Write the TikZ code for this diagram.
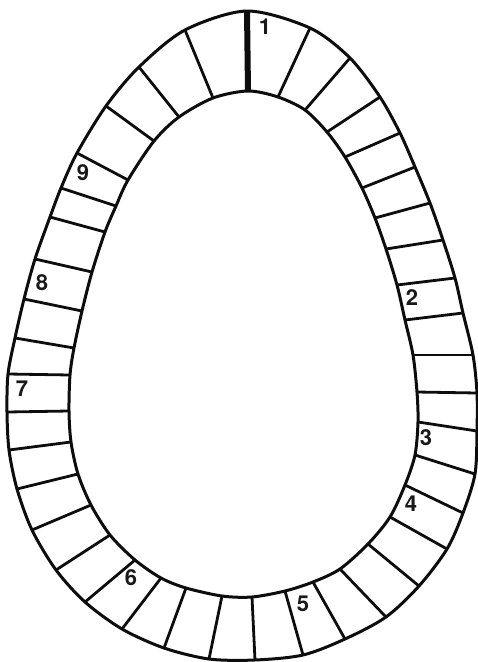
\documentclass[tikz,border=0pt]{standalone}
\usepackage{fontspec}
\setmainfont{TeX Gyre Heros}

\begin{document}
\begin{tikzpicture}[x=1pt, y=-1pt,
    rim/.style={line width=3pt, black!95},
    bar/.style={line width=2.8pt, black!95},
    startbar/.style={line width=6pt, black!95},
    num/.style={font=\bfseries\fontsize{22}{22}\selectfont, text=black!90},
]
    \useasboundingbox (0,0) rectangle (478,662);

    % Square edges: outer x/y, inner x/y, clockwise from the start
    \foreach \ox/\oy/\ix/\iy [count=\n] in {
        247/11/248/91, 310/28/278/97, 350/58/305/110, 380/97/327/132,
        400/133/345/157, 415/167/362/188, 430/203/375/218, 443/240/386/249,
        455/278/397/285, 463/313/405/320, 473/355/413/355, 477/393/417/392,
        477/431/418/422, 475/474/415/455, 463/513/405/485, 447/549/390/517,
        419/586/368/544, 386/617/340/569, 345/639/313/582, 303/655/285/591,
        255/660/252/597, 209/659/222/596, 164/648/186/588, 122/629/161/578,
        85/602/135/560, 56/570/110/535, 32/530/91/505, 17/489/78/474,
        9/450/71/442, 7/412/69/411, 8/374/70/375, 15/338/74/348,
        24/299/82/311, 35/259/92/272, 50/217/105/232, 61/188/116/206,
        77/153/128/180, 106/106/154/141, 139/67/179/117, 185/30/213/98}
    {
        \coordinate (o\n) at (\ox,\oy);
        \coordinate (i\n) at (\ix,\iy);
    }

    % Dividers
    \foreach \n in {2,...,40}
        \draw[bar] (o\n) -- (i\n);
    \draw[startbar] (o1) -- (i1);

    % Track outline
    \draw[rim] plot[smooth cycle, samples at={1,...,40}] (o\x);
    \draw[rim] plot[smooth cycle, samples at={1,...,40}] (i\x);

    % Numbers
    \node[num] (n1) at (265,27) {1};
    \node[num] (n2) at (412,298) {2};
    \node[num] (n3) at (426,438) {3};
    \node[num] (n4) at (411,504) {4};
    \node[num] (n5) at (303,604) {5};
    \node[num] (n6) at (131,578) {6};
    \node[num] (n7) at (22,389) {7};
    \node[num] (n8) at (42,283) {8};
    \node[num] (n9) at (83,173) {9};
\end{tikzpicture}
\end{document}
